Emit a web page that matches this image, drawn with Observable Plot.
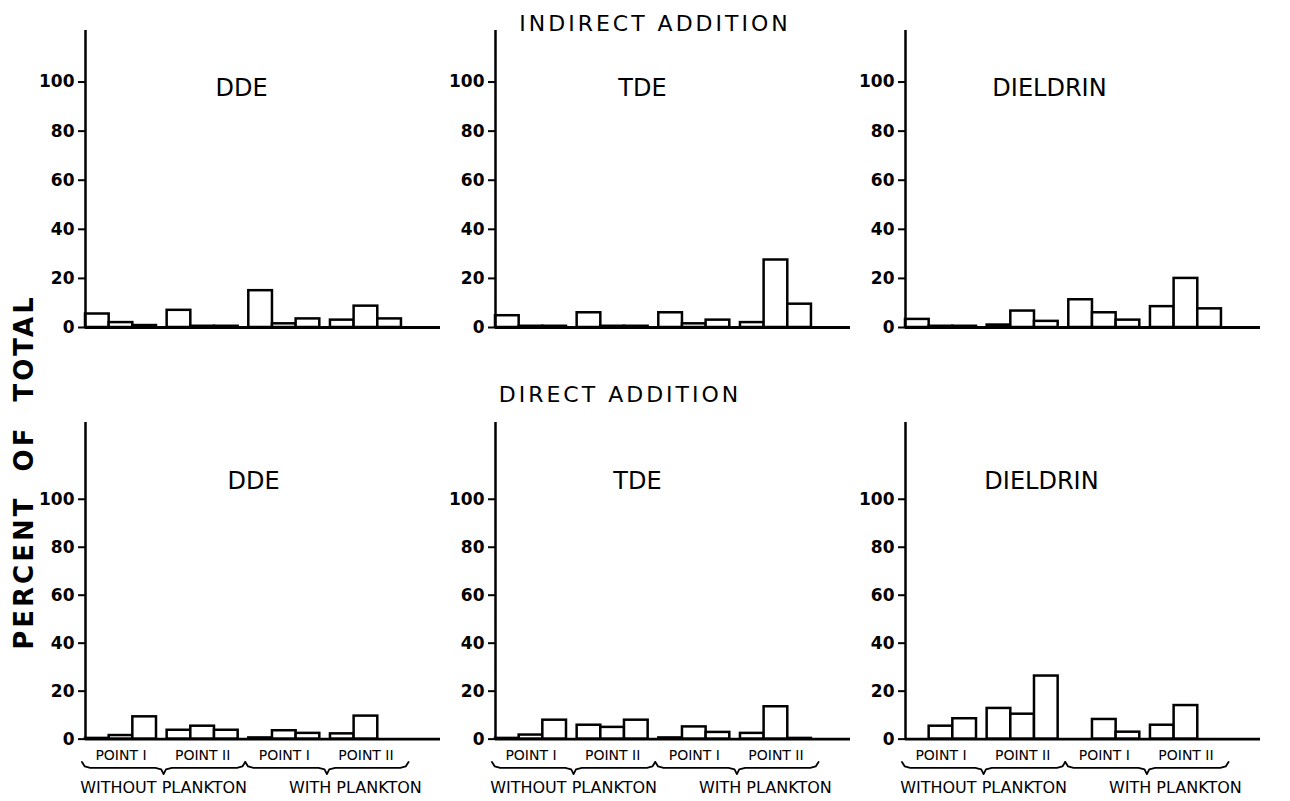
<!DOCTYPE html>
<html>
<head>
<meta charset="utf-8">
<script src="https://cdn.jsdelivr.net/npm/d3@7"></script>
<script src="https://cdn.jsdelivr.net/npm/@observablehq/plot@0.6"></script>
<style>
  body { margin: 0; background: #fff; }
  #chart { position: relative; width: 1290px; height: 801px; overflow: hidden; background: #fff;
           font-family: "DejaVu Sans", sans-serif; color: #000; }
  #chart .panel { position: absolute; }
  #chart .heading { position: absolute; font-size: 22px; line-height: 22px; letter-spacing: 3px;
                    white-space: nowrap; transform: translateX(-50%); }
  #chart .ylabel { position: absolute; font-size: 26px; line-height: 26px; font-weight: bold;
                   letter-spacing: 3px; white-space: pre; transform: translate(-50%, -50%) rotate(-90deg); }
</style>
</head>
<body>
<div id="chart"></div>
<script>
// Categories and labels
const additions = ["INDIRECT ADDITION", "DIRECT ADDITION"];
const compounds = ["DDE", "TDE", "DIELDRIN"];
const pointLabels = ["POINT I", "POINT II", "POINT I", "POINT II"];
const planktonLabels = ["WITHOUT PLANKTON", "WITH PLANKTON"];
const yTicks = [0, 20, 40, 60, 80, 100];
const yTitle = "PERCENT  OF  TOTAL";

// Percent of total, three fractions for each of the four groups
// (without plankton: point I, point II; with plankton: point I, point II)
const indirectDDE      = [5.5, 2, 0.8, 7, 0.5, 0.5, 15, 1.5, 3.5, 3, 8.7, 3.5];
const indirectTDE      = [4.8, 0.5, 0.5, 6, 0.5, 0.5, 6, 1.5, 3, 2, 27.5, 9.5];
const indirectDieldrin = [3.3, 0.5, 0.5, 1, 6.7, 2.5, 11.3, 6, 3, 8.5, 20, 7.6];
const directDDE        = [0.3, 1.5, 9.3, 3.7, 5.4, 3.7, 0.5, 3.5, 2.4, 2.2, 9.6, 0];
const directTDE        = [0.3, 1.7, 7.9, 5.8, 4.9, 7.9, 0.5, 5.1, 2.8, 2.4, 13.5, 0.3];
const directDieldrin   = [0, 5.4, 8.5, 12.8, 10.4, 26.3, 0, 8.2, 2.9, 5.8, 14, 0];

// Layout
const GROUP_PITCH = 3.45;      // bar widths from one group start to the next
const X_DOMAIN = [0, 15];       // in bar widths
const PLOT_W = 355;             // pixel length of the baseline
const MARGIN_LEFT = 60;
const MARGIN_RIGHT = 30;
const axisLeft = [85, 495, 905];

const rows = [
  { series: [indirectDDE, indirectTDE, indirectDieldrin], top: 0, height: 345,
    marginTop: 30, marginBottom: 18, yDomain: [0, 121], axisTop: 121,
    titleDx: [156, 147, 144], titleDy: 48, labels: false },
  { series: [directDDE, directTDE, directDieldrin], top: 400, height: 401,
    marginTop: 22, marginBottom: 0, yDomain: [-26, 132], axisTop: 132,
    titleDx: [168, 142, 136], titleDy: 49, labels: true }
];

const slot = i => Math.floor(i / 3) * GROUP_PITCH + (i % 3);
const groupStart = g => g * GROUP_PITCH;
const groupEnd = g => g * GROUP_PITCH + 3;
const braceStart = p => groupStart(2 * p) - 0.15;
const braceEnd = p => groupEnd(2 * p + 1) + 0.3;
const braceTip = p => (braceStart(p) + braceEnd(p)) / 2;

// curly brace under each pair of groups
function bracePoints(p) {
  const x0 = braceStart(p), x1 = braceEnd(p), tip = braceTip(p);
  const pts = [
    [x0, -9.5], [x0 + 0.12, -11.4], [x0 + 0.35, -12], [tip - 0.35, -12], [tip - 0.1, -12.6],
    [tip, -14.6], [tip + 0.1, -12.6], [tip + 0.35, -12], [x1 - 0.35, -12], [x1 - 0.12, -11.4], [x1, -9.5]
  ];
  return pts.map(([x, y]) => ({ brace: p, x, y }));
}

const chart = document.getElementById("chart");

rows.forEach((row, r) => {
  row.series.forEach((values, c) => {
    const bars = values.map((v, i) => ({ i, value: v }));
    const marks = [
      Plot.rectY(bars, {
        x1: d => slot(d.i), x2: d => slot(d.i) + 1, y: "value",
        fill: "white", stroke: "black", strokeWidth: 2.5
      }),
      Plot.ruleY([0], { x1: X_DOMAIN[0], x2: X_DOMAIN[1], stroke: "black", strokeWidth: 2.8 }),
      Plot.ruleX([0], { y1: 0, y2: row.axisTop, stroke: "black", strokeWidth: 2.5 }),
      Plot.axisY(yTicks, {
        anchor: "left", tickSize: 7, tickPadding: 4, strokeWidth: 2,
        fontSize: 17, fontWeight: "bold", label: null
      }),
      Plot.text([compounds[c]], {
        frameAnchor: "top-left", dx: row.titleDx[c], dy: row.titleDy,
        textAnchor: "middle", fontSize: 24, fill: "black",
        style: "letter-spacing:1.5px"
      })
    ];
    if (row.labels) {
      marks.push(
        Plot.text(pointLabels, {
          x: (d, g) => groupStart(g) + 1.5, y: 0, dy: 16,
          textAnchor: "middle", fontSize: 14, fill: "black"
        }),
        Plot.line([0, 1].flatMap(bracePoints), {
          x: "x", y: "y", z: "brace", stroke: "black", strokeWidth: 1.8
        }),
        // the second phrase sits a little right of its brace tip
        Plot.text(planktonLabels, {
          x: (d, p) => braceTip(p) + (p === 1 ? 1.2 : 0),
          y: 0, dy: 49,
          textAnchor: "middle", fontSize: 16, fill: "black"
        })
      );
    }
    const svg = Plot.plot({
      width: MARGIN_LEFT + PLOT_W + MARGIN_RIGHT,
      height: row.height,
      marginLeft: MARGIN_LEFT,
      marginRight: MARGIN_RIGHT,
      marginTop: row.marginTop,
      marginBottom: row.marginBottom,
      x: { domain: X_DOMAIN, axis: null },
      y: { domain: row.yDomain, axis: null },
      style: { fontFamily: "DejaVu Sans, sans-serif", background: "transparent", overflow: "visible", color: "black" },
      marks
    });
    svg.classList.add("panel");
    svg.style.left = (axisLeft[c] - MARGIN_LEFT) + "px";
    svg.style.top = row.top + "px";
    svg.style.maxWidth = "none";
    chart.appendChild(svg);
  });
});

// Row headings
const headingPos = [{ x: 655, top: 13 }, { x: 620, top: 384 }];
additions.forEach((t, r) => {
  const div = document.createElement("div");
  div.className = "heading";
  div.textContent = t;
  div.style.left = headingPos[r].x + "px";
  div.style.top = headingPos[r].top + "px";
  chart.appendChild(div);
});

// Shared y axis title
const yl = document.createElement("div");
yl.className = "ylabel";
yl.textContent = yTitle;
yl.style.left = "24px";
yl.style.top = "472px";
chart.appendChild(yl);
</script>
</body>
</html>
